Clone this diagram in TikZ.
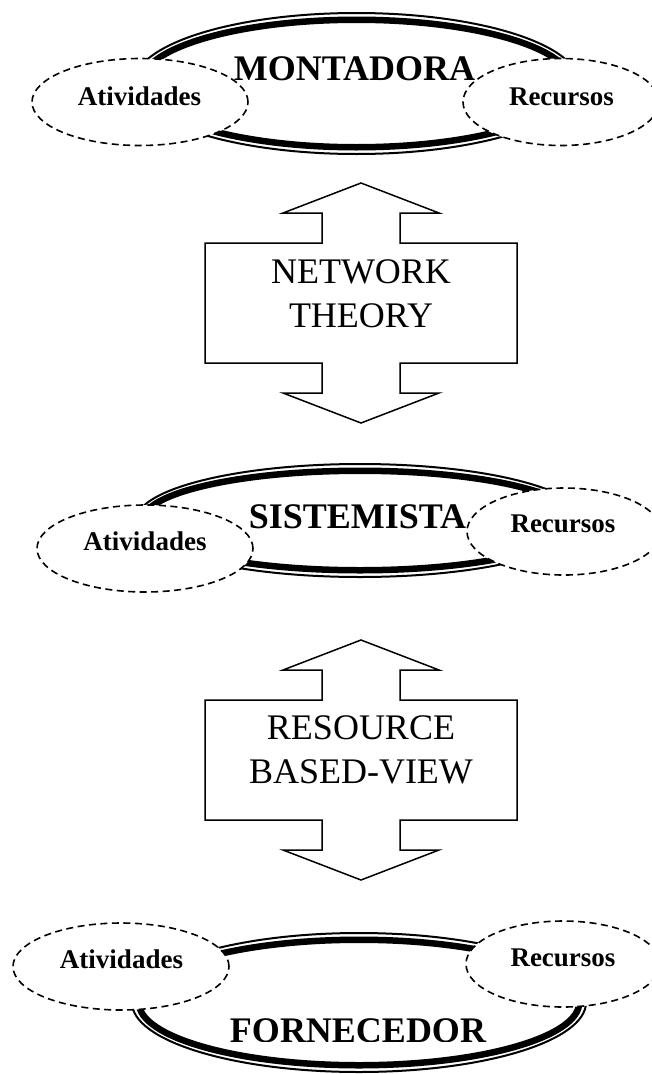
\documentclass[tikz,border=0pt]{standalone}
\usepackage{fontspec}
\setmainfont{Liberation Serif}
\usetikzlibrary{shapes.geometric}
\begin{document}
\begin{tikzpicture}[x=1pt,y=-1pt,
  thinring/.style={draw, ellipse, line width=2pt, inner sep=0pt},
  thickring/.style={draw, ellipse, line width=6.5pt, inner sep=0pt},
  dashring/.style={draw, ellipse, dash pattern=on 7pt off 4.5pt, line width=1.6pt, fill=white, inner sep=0pt},
  bigtext/.style={font=\fontsize{36}{40}\selectfont\bfseries, anchor=base, inner sep=0pt},
  smalltext/.style={font=\fontsize{27}{30}\selectfont\bfseries, anchor=base, inner sep=0pt},
  arrowtext/.style={font=\fontsize{36}{44}\selectfont, align=center, inner sep=0pt},
  dblarrow/.style={draw, line width=1.5pt, line join=miter}
]
\useasboundingbox[fill=white] (0,0) rectangle (652,1074);

% ---------- MONTADORA ----------
\node[thinring, minimum width=445pt, minimum height=141pt] (montO) at (356.5,83.5) {};
\node[thickring, minimum width=431.5pt, minimum height=127.5pt] (montI) at (356.5,83.5) {};
\node[dashring, minimum width=216pt, minimum height=87pt] (montA) at (140,102) {};
\node[dashring, minimum width=196pt, minimum height=87pt] (montR) at (561,102) {};
\node[bigtext] (montT) at (354.5,80) {MONTADORA};
\node[smalltext] (montAt) at (139.5,105) {Atividades};
\node[smalltext] (montRt) at (561.5,105) {Recursos};

% ---------- NETWORK THEORY arrow ----------
\draw[dblarrow] (361,183) -- (439,213) -- (400,213) -- (400,243) -- (517,243) -- (517,363)
  -- (400,363) -- (400,393) -- (439,393) -- (361,423) -- (283,393) -- (322,393) -- (322,363)
  -- (205,363) -- (205,243) -- (322,243) -- (322,213) -- (283,213) -- cycle;
\node[arrowtext] (net) at (361,293.5) {NETWORK\\THEORY};

% ---------- SISTEMISTA ----------
\node[thinring, minimum width=448pt, minimum height=113pt] (sisO) at (360,520.5) {};
\node[thickring, minimum width=434.5pt, minimum height=99.5pt] (sisI) at (360,520.5) {};
\node[dashring, minimum width=216pt, minimum height=87pt] (sisA) at (145,548.5) {};
\node[dashring, minimum width=194pt, minimum height=87pt] (sisR) at (564,531.5) {};
\node[bigtext] (sisT) at (357.5,528) {SISTEMISTA};
\node[smalltext] (sisAt) at (145,550) {Atividades};
\node[smalltext] (sisRt) at (563,532) {Recursos};

% ---------- RESOURCE BASED-VIEW arrow ----------
\draw[dblarrow] (361,640) -- (439,670) -- (400,670) -- (400,700) -- (517,700) -- (517,820)
  -- (400,820) -- (400,850) -- (439,850) -- (361,880) -- (283,850) -- (322,850) -- (322,820)
  -- (205,820) -- (205,700) -- (322,700) -- (322,670) -- (283,670) -- cycle;
\node[arrowtext] (rbv) at (361,750) {RESOURCE\\BASED-VIEW};

% ---------- FORNECEDOR ----------
\node[thinring, minimum width=454pt, minimum height=139pt] (forO) at (359,1002.5) {};
\node[thickring, minimum width=440.5pt, minimum height=125.5pt] (forI) at (359,1002.5) {};
\node[dashring, minimum width=216pt, minimum height=87pt] (forA) at (121,966.5) {};
\node[dashring, minimum width=194pt, minimum height=86pt] (forR) at (563,964) {};
\begin{scope}
\clip (0,0) rectangle (652,1041);
\node[bigtext] (forT) at (358,1042) {FORNECEDOR};
\end{scope}
\node[smalltext] (forAt) at (121.5,968) {Atividades};
\node[smalltext] (forRt) at (563,966) {Recursos};
\end{tikzpicture}
\end{document}
